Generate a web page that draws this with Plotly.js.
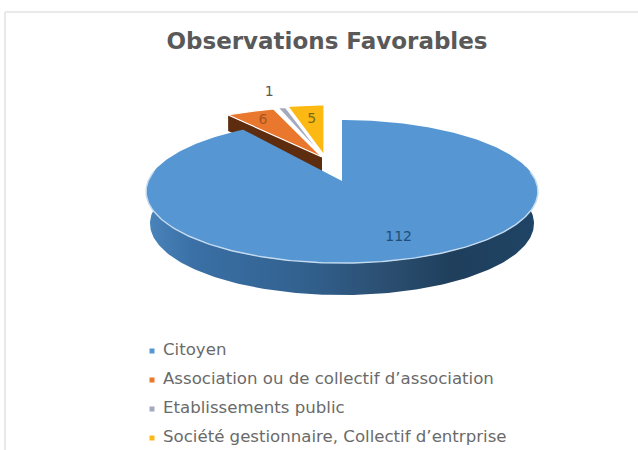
<!DOCTYPE html>
<html>
<head>
<meta charset="utf-8">
<script src="https://cdn.plot.ly/plotly-3.0.1.min.js"></script>
<style>html,body{margin:0;padding:0;background:#fff}</style>
</head>
<body>
<div id="chart" style="width:638px;height:450px"></div>
<script>
// Contributors behind the favourable observations
const categories = ["Citoyen", "Association ou de collectif d’association", "Etablissements public", "Société gestionnaire, Collectif d’entrprise"];
const values = [112, 6, 1, 5];
const colors = ["#5596d3", "#e9772e", "#a3a9bf", "#fdb913"];
const labelColors = ["#1f4e79", "#a8561f", "#595959", "#7a6a10"];

// Tilted-disc projection, expressed in the pixel-sized axes below
const centre = {x: 342, y: 181};
const radiusX = 193.8, radiusY = 70, tilt = 0.147, depth = 32;
// Detached slices: reduced radius, shifted off the disc
const sliceScaleX = [1, 0.95, 0.87, 0.85];
const sliceScaleY = [1, 0.82, 0.82, 0.82];
const sliceShift = [[0, 0], [-20, -24], [-19.5, -25], [-18, -26]];
// Value label placement: distance along the slice, then a small nudge
const labelReach = [0.75, 0.85, 1.37, 0.7];
const labelNudge = [[8, 1], [3, 3], [0, 0], [1, 1]];

const total = values.reduce((a, b) => a + b, 0);
const project = (deg, reach, i) => {
  const t = deg * Math.PI / 180, u = reach * Math.sin(t), v = reach * Math.cos(t);
  const d = 1 + tilt * v;
  return [
    centre.x + sliceShift[i][0] + sliceScaleX[i] * radiusX * u / d,
    centre.y + sliceShift[i][1] - sliceScaleY[i] * radiusY * v / d
  ];
};
const arc = (from, to, i) => {
  const pts = [], n = Math.max(2, Math.ceil(Math.abs(to - from)));
  for (let k = 0; k <= n; k++) pts.push(project(from + (to - from) * k / n, 1, i));
  return pts;
};
const xs = p => p.map(q => q[0]), ys = p => p.map(q => q[1]);

// Cumulative angles for each slice, clockwise from twelve o'clock
const angles = [];
values.reduce((acc, v) => { angles.push([acc, acc + v / total * 360]); return acc + v / total * 360; }, 0);

const traces = [];
const poly = (pts, fillcolor, line, extra) => traces.push(Object.assign({
  type: "scatter", mode: "lines", x: xs(pts), y: ys(pts), fill: "toself",
  fillcolor, line: line || {width: 0}, hoverinfo: "skip", showlegend: false
}, extra || {}));

// Side wall of the large slice, darkening to the right
const rim = arc(78, 282, 0);
const lowerRim = rim.slice().reverse().map(q => [centre.x + (q[0] - centre.x) * 0.98, q[1] + depth]);
poly(rim.concat(lowerRim), "#30587f", {width: 0}, {
  fillgradient: {type: "horizontal", colorscale: [
    [0, "#4a85bb"], [0.12, "#3a70a6"], [0.4, "#32618f"], [0.62, "#2b4e70"], [0.78, "#1f3f5c"], [1, "#1f4465"]
  ]}
});

// Cut face of the detached orange slice
const orangeEdge = project(angles[1][0], 1, 1), orangeTip = project(0, 0, 1);
poly([orangeEdge, orangeTip, [orangeTip[0], orangeTip[1] + 16], [orangeEdge[0], orangeEdge[1] + 16]], "#5e2c0e");

// Top faces, white seams around the detached slices
values.forEach((v, i) => {
  const apex = project(0, 0, i);
  const outline = [apex].concat(arc(angles[i][0], angles[i][1], i), [apex]);
  poly(outline, colors[i], i === 0 ? {width: 0} : {color: "#ffffff", width: 1.2}, {name: categories[i]});
});

// Highlight along the front of the disc
const highlight = arc(82, 278, 0);
traces.push({type: "scatter", mode: "lines", x: xs(highlight), y: ys(highlight),
  line: {color: "#c4dbf0", width: 1.4}, hoverinfo: "skip", showlegend: false});

// Value labels
values.forEach((v, i) => {
  const p = project((angles[i][0] + angles[i][1]) / 2, labelReach[i], i);
  traces.push({type: "scatter", mode: "text", x: [p[0] + labelNudge[i][0]], y: [p[1] + labelNudge[i][1]], text: [String(v)],
    textfont: {family: "DejaVu Sans, sans-serif", size: 14, color: labelColors[i]},
    textposition: "middle center", hoverinfo: "skip", showlegend: false});
});

// Key below the disc
const keyX = 152, keyTextX = 163, keyRows = [351, 380, 409, 438];
categories.forEach((c, i) => {
  traces.push({type: "scatter", mode: "markers", x: [keyX], y: [keyRows[i]],
    marker: {symbol: "square", size: 5, color: colors[i]}, hoverinfo: "skip", showlegend: false});
  traces.push({type: "scatter", mode: "text", x: [keyTextX], y: [keyRows[i]], text: [c],
    textposition: "middle right",
    textfont: {family: "DejaVu Sans, sans-serif", size: 16.6, color: "#6a6a6a"},
    hoverinfo: "skip", showlegend: false});
});

const layout = {
  width: 638, height: 450,
  margin: {l: 0, r: 0, t: 0, b: 0},
  paper_bgcolor: "#ffffff", plot_bgcolor: "#ffffff",
  showlegend: false,
  title: {
    text: "<b>Observations Favorables</b>",
    x: 327 / 638, xanchor: "center", y: 1 - 41 / 450, yanchor: "middle",
    font: {family: "DejaVu Sans, sans-serif", size: 23, color: "#595959"}
  },
  xaxis: {visible: false, range: [0, 638], fixedrange: true},
  yaxis: {visible: false, range: [450, 0], fixedrange: true},
  shapes: [
    {type: "line", x0: 5, x1: 5, y0: 12, y1: 450, line: {color: "#e2e2e2", width: 1.5}},
    {type: "line", x0: 5, x1: 638, y0: 12, y1: 12, line: {color: "#e2e2e2", width: 1.5}}
  ]
};

Plotly.newPlot("chart", traces, layout, {displayModeBar: false, responsive: false});
</script>
</body>
</html>
